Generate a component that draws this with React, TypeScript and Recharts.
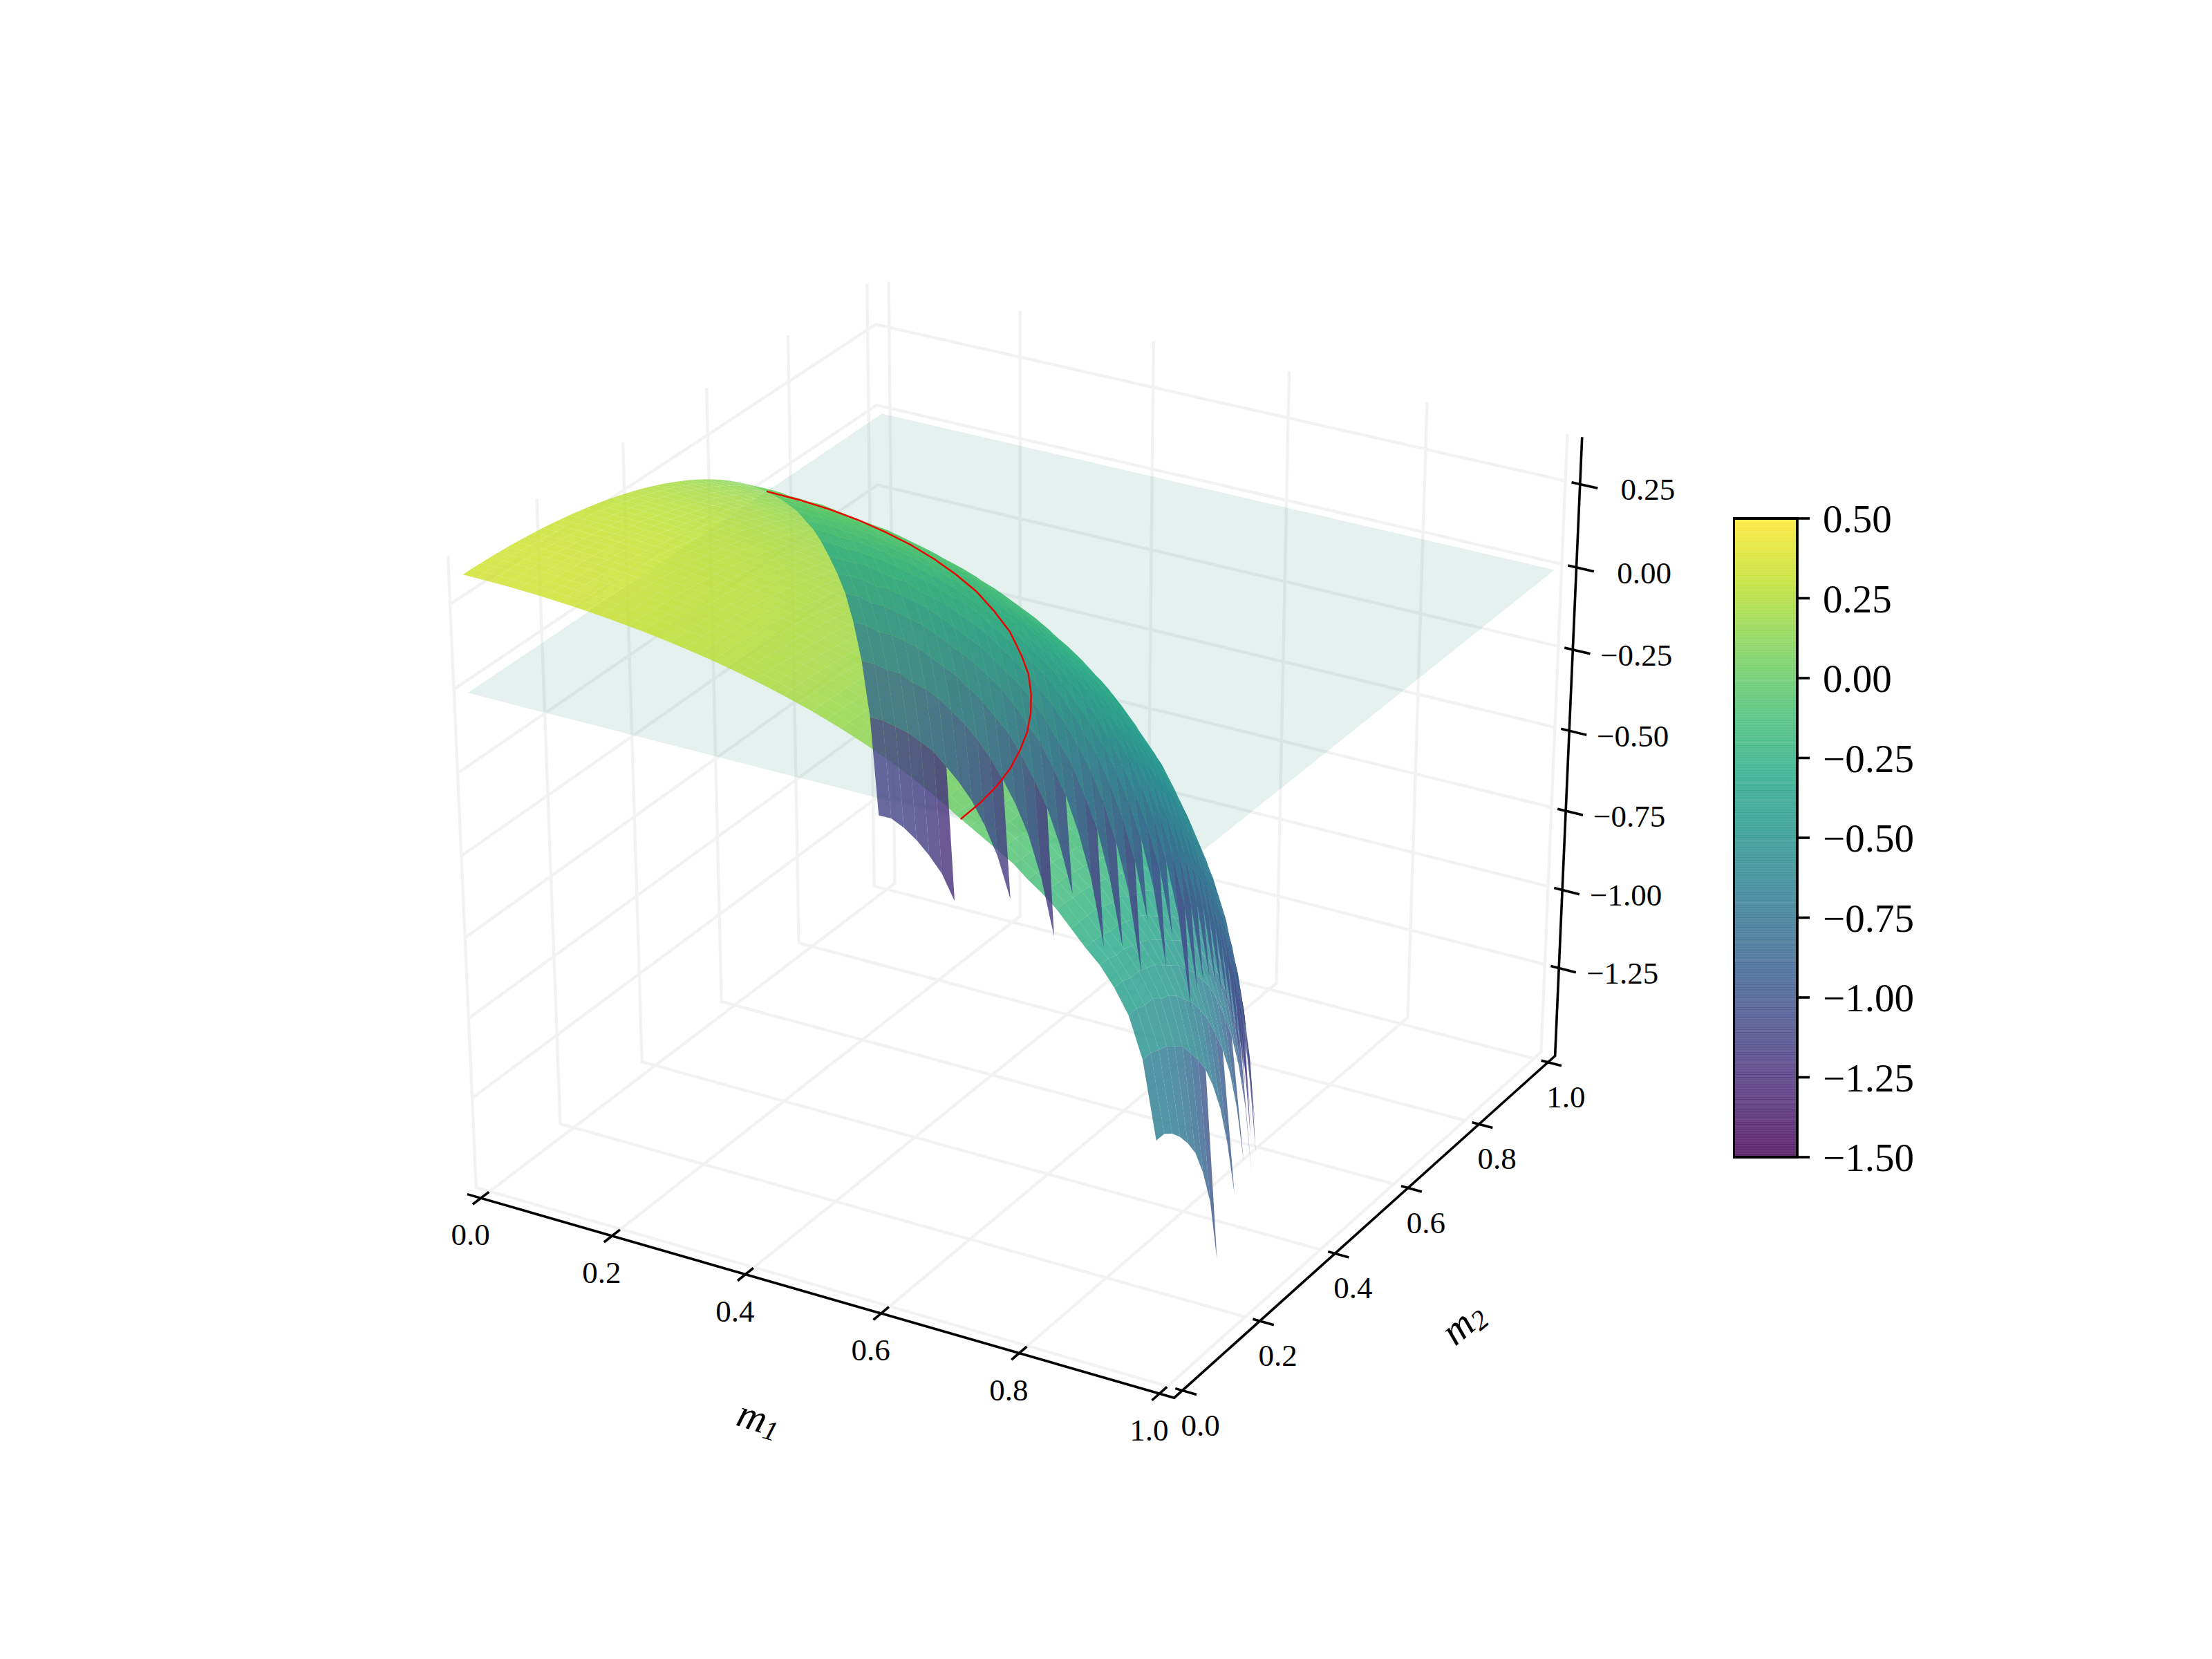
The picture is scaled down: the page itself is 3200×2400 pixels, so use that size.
import React from "react";
import { ScatterChart, Scatter, XAxis, YAxis, ReferenceArea } from "recharts";

// mesh positions along m1 and m2
const meshM = [
  0, 0.02, 0.04, 0.06, 0.08, 0.1, 0.12, 0.14, 0.16, 0.18, 0.2, 0.22, 0.24, 0.26, 0.28, 0.3, 0.32, 0.34, 0.36, 0.38,
  0.4, 0.42, 0.44, 0.46, 0.48, 0.5, 0.52, 0.54, 0.56, 0.58, 0.6, 0.62, 0.64, 0.66, 0.68, 0.7, 0.72, 0.74, 0.76, 0.78,
  0.8, 0.82, 0.84, 0.86, 0.88, 0.9, 0.92, 0.94, 0.96, 0.98,
];

// the surface sits higher towards m1 = 1, read per mesh column
const columnLift = [
  0, 0, 0, 0, 0, 0, 0, 0, 0, 0, 0, 0, 0, 0, 0, 0, 0, 0, 0, 0,
  0, 0, 0, 0, 0, 0, 0, 0, 0, 0, 0, 0, 0, 0, 0, 0, 0.005, 0.01, 0.02, 0.03,
  0.04, 0.055, 0.075, 0.095, 0.12, 0.16, 0.215, 0.285, 0.365, 0.475,
];

// dome height against radius: inner part, shoulder, steep rim
const innerRadii = [
  0, 0.005, 0.01, 0.015, 0.02, 0.025, 0.03, 0.035, 0.04, 0.045, 0.05, 0.055, 0.06, 0.065, 0.07, 0.075, 0.08, 0.085, 0.09,
  0.095, 0.1, 0.105, 0.11, 0.115, 0.12, 0.125, 0.13, 0.135, 0.14, 0.145, 0.15, 0.155, 0.16, 0.165, 0.17, 0.175, 0.18,
  0.185, 0.19, 0.195, 0.2, 0.205, 0.21, 0.215, 0.22, 0.225, 0.23, 0.235, 0.24, 0.245, 0.25, 0.255, 0.26, 0.265, 0.27,
  0.275, 0.28, 0.285, 0.29, 0.295, 0.3, 0.305, 0.31, 0.315, 0.32, 0.325, 0.33, 0.335, 0.34, 0.345, 0.35, 0.355, 0.36,
  0.365, 0.37, 0.375, 0.38, 0.385, 0.39, 0.395, 0.4, 0.405, 0.41, 0.415, 0.42, 0.425, 0.43, 0.435, 0.44, 0.445, 0.45,
  0.455, 0.46, 0.465, 0.47, 0.475, 0.48, 0.485, 0.49, 0.495, 0.5, 0.505, 0.51, 0.515, 0.52, 0.525, 0.53, 0.535, 0.54,
  0.545, 0.55, 0.555, 0.56, 0.565, 0.57, 0.575, 0.58, 0.585, 0.59, 0.595, 0.6, 0.605, 0.61, 0.615, 0.62, 0.625, 0.63,
  0.635, 0.64, 0.645, 0.65, 0.655, 0.66, 0.665, 0.67, 0.675, 0.68, 0.685, 0.69, 0.695, 0.7,
];
const innerHeights = [
  0.3466, 0.3466, 0.3465, 0.3465, 0.3464, 0.3463, 0.3461, 0.346, 0.3458, 0.3456, 0.3453, 0.3451, 0.3448, 0.3445, 0.3441,
  0.3438, 0.3434, 0.343, 0.3425, 0.3421, 0.3416, 0.3411, 0.3405, 0.3399, 0.3394, 0.3387, 0.3381, 0.3374, 0.3367, 0.336,
  0.3352, 0.3345, 0.3336, 0.3328, 0.3319, 0.3311, 0.3301, 0.3292, 0.3282, 0.3272, 0.3262, 0.3251, 0.324, 0.3229, 0.3218,
  0.3206, 0.3194, 0.3182, 0.3169, 0.3157, 0.3143, 0.313, 0.3116, 0.3102, 0.3088, 0.3073, 0.3058, 0.3042, 0.3027, 0.3011,
  0.2994, 0.2978, 0.2961, 0.2943, 0.2926, 0.2908, 0.2889, 0.2871, 0.2852, 0.2832, 0.2813, 0.2792, 0.2772, 0.2751, 0.273,
  0.2708, 0.2686, 0.2664, 0.2641, 0.2618, 0.2594, 0.257, 0.2546, 0.2521, 0.2496, 0.247, 0.2444, 0.2417, 0.239, 0.2363,
  0.2335, 0.2306, 0.2277, 0.2248, 0.2218, 0.2187, 0.2157, 0.2125, 0.2093, 0.2061, 0.2028, 0.1994, 0.196, 0.1925, 0.189,
  0.1854, 0.1817, 0.178, 0.1742, 0.1704, 0.1665, 0.1625, 0.1585, 0.1543, 0.1502, 0.1459, 0.1416, 0.1372, 0.1327, 0.1281,
  0.1235, 0.1187, 0.1139, 0.109, 0.104, 0.0989, 0.0938, 0.0885, 0.0831, 0.0777, 0.0721, 0.0664, 0.0606, 0.0547, 0.0487,
  0.0425, 0.0363, 0.0299, 0.0234, 0.0167, 0.0099,
];
const shoulderRadii = [
  0.7036, 0.7071, 0.7106, 0.7141, 0.7175, 0.7208, 0.7241, 0.7274, 0.7306, 0.7338, 0.7369, 0.74, 0.743, 0.746, 0.749, 0.7519,
  0.7548, 0.7576, 0.7604, 0.7631, 0.7658, 0.7685, 0.7712, 0.7738, 0.7764, 0.7789, 0.7814, 0.7839, 0.7863, 0.7887, 0.7911,
  0.7935, 0.7958, 0.7981, 0.8004, 0.8026, 0.8048, 0.807, 0.8091, 0.8112, 0.8133, 0.8154, 0.8174, 0.8194, 0.8214, 0.8234,
  0.8254, 0.8273, 0.8292, 0.831, 0.8329, 0.8347, 0.8365, 0.8383, 0.8401, 0.8418, 0.8435, 0.8452, 0.8469, 0.8486, 0.8502, 0.8518,
];
const shoulderHeights = [
  0.005, 0, -0.005, -0.01, -0.015, -0.02, -0.025, -0.03, -0.035, -0.04, -0.045, -0.05, -0.055, -0.06, -0.065, -0.07,
  -0.075, -0.08, -0.085, -0.09, -0.095, -0.1, -0.105, -0.11, -0.115, -0.12, -0.125, -0.13, -0.135, -0.14, -0.145,
  -0.15, -0.155, -0.16, -0.165, -0.17, -0.175, -0.18, -0.185, -0.19, -0.195, -0.2, -0.205, -0.21, -0.215, -0.22,
  -0.225, -0.23, -0.235, -0.24, -0.245, -0.25, -0.255, -0.26, -0.265, -0.27, -0.275, -0.28, -0.285, -0.29, -0.295, -0.3,
];
const rimRadii = [
  0.855, 0.8581, 0.8612, 0.8641, 0.867, 0.8698, 0.8726, 0.8753, 0.878, 0.8805, 0.8831, 0.8855, 0.8879,
  0.8903, 0.8926, 0.8948, 0.897, 0.8992, 0.9013, 0.9034, 0.9054, 0.9073, 0.9093, 0.9112, 0.913, 0.9148, 0.9166, 0.9183,
  0.92, 0.9216, 0.9232, 0.9248, 0.9264, 0.9279, 0.9294, 0.9308, 0.9322, 0.9336, 0.935, 0.9363, 0.9376, 0.9389, 0.9401,
  0.9414, 0.9426, 0.9437, 0.9449, 0.946, 0.9471, 0.9482, 0.9492, 0.9503, 0.9513, 0.9523, 0.9532, 0.9542, 0.9551, 0.956,
  0.9569, 0.9578, 0.9586, 0.9595, 0.9603, 0.9611, 0.9619, 0.9627, 0.9634, 0.9641, 0.9649, 0.9656, 0.9663, 0.967, 0.9676,
  0.9683, 0.9689, 0.9695, 0.9701, 0.9708, 0.9713, 0.9719, 0.9725, 0.973, 0.9736, 0.9741, 0.9746, 0.9751, 0.9756, 0.9761,
  0.9766, 0.9771, 0.9775, 0.978, 0.9784, 0.9788, 0.9793, 0.9797, 0.9801, 0.9805, 0.9809, 0.9813, 0.9816, 0.982, 0.9824,
  0.9827, 0.9831, 0.9834, 0.9837, 0.9841, 0.9844, 0.9847, 0.985, 0.9853, 0.9856, 0.9859, 0.9862, 0.9864, 0.9867, 0.987,
  0.9872, 0.9875, 0.98797, 0.98845, 0.9889, 0.98934, 0.98976, 0.99055, 0.99127, 0.99195, 0.99257, 0.99315, 0.99367,
  0.99416, 0.99461, 0.99502, 0.99541, 0.99624, 0.99692, 0.99794,
];
const rimHeights = [
  -0.31, -0.32, -0.33, -0.34, -0.35, -0.36, -0.37, -0.38, -0.39, -0.4, -0.41, -0.42, -0.43,
  -0.44, -0.45, -0.46, -0.47, -0.48, -0.49, -0.5, -0.51, -0.52, -0.53, -0.54, -0.55, -0.56, -0.57, -0.58,
  -0.59, -0.6, -0.61, -0.62, -0.63, -0.64, -0.65, -0.66, -0.67, -0.68, -0.69, -0.7, -0.71, -0.72, -0.73,
  -0.74, -0.75, -0.76, -0.77, -0.78, -0.79, -0.8, -0.81, -0.82, -0.83, -0.84, -0.85, -0.86, -0.87, -0.88,
  -0.89, -0.9, -0.91, -0.92, -0.93, -0.94, -0.95, -0.96, -0.97, -0.98, -0.99, -1, -1.01, -1.02, -1.03,
  -1.04, -1.05, -1.06, -1.07, -1.08, -1.09, -1.1, -1.11, -1.12, -1.13, -1.14, -1.15, -1.16, -1.17, -1.18,
  -1.19, -1.2, -1.21, -1.22, -1.23, -1.24, -1.25, -1.26, -1.27, -1.28, -1.29, -1.3, -1.31, -1.32, -1.33,
  -1.34, -1.35, -1.36, -1.37, -1.38, -1.39, -1.4, -1.41, -1.42, -1.43, -1.44, -1.45, -1.46, -1.47, -1.48,
  -1.49, -1.5, -1.52, -1.54, -1.56, -1.58, -1.6, -1.64, -1.68, -1.72, -1.76, -1.8, -1.84,
  -1.88, -1.92, -1.96, -2, -2.1, -2.2, -2.4,
];
const ringRadii = [...innerRadii, ...shoulderRadii, ...rimRadii];
const ringHeights = [...innerHeights, ...shoulderHeights, ...rimHeights];

// the red line where the surface crosses zero
const contourM1 = [0, 0.05, 0.0999, 0.1495, 0.199, 0.248, 0.297, 0.345, 0.394, 0.442, 0.491, 0.54, 0.574, 0.606, 0.633, 0.656, 0.674, 0.689, 0.699, 0.705, 0.707];
const contourM2 = [0.707, 0.705, 0.699, 0.689, 0.674, 0.656, 0.633, 0.606, 0.574, 0.535, 0.491, 0.436, 0.394, 0.345, 0.297, 0.248, 0.199, 0.1495, 0.0999, 0.05, 0];

const mTicks = [0, 0.2, 0.4, 0.6, 0.8, 1];
const zTicks = [-1.25, -1, -0.75, -0.5, -0.25, 0, 0.25];
const colorbarTicks = [-1.5, -1.25, -1, -0.75, -0.5, -0.25, 0, 0.25, 0.5];
const viridisStops = ["#440154", "#482475", "#414487", "#355f8d", "#2a788e", "#21918c", "#22a884", "#44bf70", "#7ad151", "#bddf26", "#fde725"];

const WIDTH = 3200;
const HEIGHT = 2400;
const FONT = "'Liberation Serif', serif";
const SURFACE_FLOOR = -1.505;

// 3d view of the axes box
const mLim = [-0.0208, 1.0208];
const zLim = [-1.535, 0.39];
const kx = 11805;
const ky = 10440;
const uDomain = [-1475 / kx, (WIDTH - 1475) / kx];
const vDomain = [(1185 - HEIGHT) / ky, 1185 / ky];

const project = (m1: number, m2: number, z: number) => {
  const x = (m1 - mLim[0]) / (mLim[1] - mLim[0]) - 0.5;
  const y = (m2 - mLim[0]) / (mLim[1] - mLim[0]) - 0.5;
  const h = (z - zLim[0]) / (zLim[1] - zLim[0]) - 0.5;
  const c = Math.sqrt(3) / 2;
  const depth = (c / 2) * x - 0.75 * y + 0.5 * h;
  const d = 10 - depth;
  return { u: (c * x + 0.5 * y) / d, v: (-0.25 * x + (c / 2) * y + c * h) / d, depth };
};

const viridis = (t: number) => {
  const p = Math.min(Math.max(t, 0), 1) * (viridisStops.length - 1);
  const i = Math.min(Math.floor(p), viridisStops.length - 2);
  const a = viridisStops[i];
  const b = viridisStops[i + 1];
  const mix = (s: number) => {
    const ca = parseInt(a.slice(s, s + 2), 16);
    const cb = parseInt(b.slice(s, s + 2), 16);
    return Math.round(ca + (cb - ca) * (p - i));
  };
  return `rgb(${mix(1)},${mix(3)},${mix(5)})`;
};

// nearest reading of the rings, null outside the surface
const heightAt = (i: number, j: number) => {
  const r = Math.sqrt(meshM[i] * meshM[i] + meshM[j] * meshM[j]);
  if (r > ringRadii[ringRadii.length - 1]) return null;
  let best = 0;
  for (let k = 1; k < ringRadii.length; k++) {
    if (Math.abs(ringRadii[k] - r) < Math.abs(ringRadii[best] - r)) best = k;
  }
  const z = ringHeights[best] + columnLift[i];
  return z < SURFACE_FLOOR ? null : z;
};

const buildQuads = () => {
  const quads: any[] = [];
  for (let i = 0; i < meshM.length - 1; i++) {
    for (let j = 0; j < meshM.length - 1; j++) {
      const nodes = [
        [i, j],
        [i + 1, j],
        [i + 1, j + 1],
        [i, j + 1],
      ];
      const zs = nodes.map(([a, b]) => heightAt(a, b));
      if (zs.some((z) => z === null)) continue;
      const corners = nodes.map(([a, b], k) => project(meshM[a], meshM[b], zs[k] as number));
      const mean = (zs as number[]).reduce((s, z) => s + z, 0) / 4;
      quads.push({
        u: corners.reduce((s, c) => s + c.u, 0) / 4,
        v: corners.reduce((s, c) => s + c.v, 0) / 4,
        depth: corners.reduce((s, c) => s + c.depth, 0) / 4,
        corners,
        color: viridis((mean + 1.5) / 2),
      });
    }
  }
  return quads.sort((a, b) => b.depth - a.depth);
};

const surfaceQuads = buildQuads();
const planeCorners = [project(0, 0, 0), project(1, 0, 0), project(1, 1, 0), project(0, 1, 0)];
const planeRow = [
  {
    u: planeCorners.reduce((s, c) => s + c.u, 0) / 4,
    v: planeCorners.reduce((s, c) => s + c.v, 0) / 4,
    corners: planeCorners,
    color: "rgb(0,115,85)",
    alpha: 0.1,
  },
];

const [lo, hi] = mLim;
const [zLo, zHi] = zLim;
const gridM1 = [lo, 1];
const gridM2 = [0, hi];

const gridLines = [
  ...mTicks.map((t) => [project(t, gridM2[0], zLo), project(t, gridM2[1], zLo), project(t, gridM2[1], zHi)]),
  ...mTicks.map((t) => [project(gridM1[1], t, zLo), project(gridM1[0], t, zLo), project(gridM1[0], t, zHi)]),
  ...zTicks.map((t) => [project(gridM1[0], gridM2[0], t), project(gridM1[0], gridM2[1], t), project(gridM1[1], gridM2[1], t)]),
];
const axisLines = [
  [project(lo, lo, zLo), project(hi, lo, zLo), project(hi, hi, zLo), project(hi, hi, zHi)],
];
const tickLines = [
  ...mTicks.map((t) => [project(t, lo - 0.019, zLo), project(t, lo + 0.019, zLo)]),
  ...mTicks.map((t) => [project(hi + 0.02, t, zLo), project(hi - 0.01, t, zLo)]),
  ...zTicks.map((t) => [project(hi + 0.025, hi, t), project(hi - 0.012, hi, t)]),
];
const contourRows = contourM1.map((m, i) => project(m, contourM2[i], 0));

const tickText = (t: number, digits: number) => (t < 0 ? "\u2212" : "") + Math.abs(t).toFixed(digits);
const m1Labels = mTicks.map((t) => ({ ...project(t, lo, zLo), text: t.toFixed(1), dx: -15, dy: 53 }));
const m2Labels = mTicks.map((t) => ({ ...project(hi, t, zLo), text: t.toFixed(1), dx: 26, dy: 50 }));
const zLabels = zTicks.map((t) => ({ ...project(hi, hi, t), text: tickText(t, 2), dx: t < 0 ? 92 : 98, dy: 8 }));

const NoDot = () => <g />;

const FacetShape = (props: any) => {
  const { cx, cy, payload } = props;
  const points = payload.corners.map((c: any) => `${cx + (c.u - payload.u) * kx},${cy - (c.v - payload.v) * ky}`).join(" ");
  return <polygon points={points} fill={payload.color} fillOpacity={payload.alpha ?? 0.8} stroke="none" />;
};

const TextShape = (props: any) => {
  const { cx, cy, payload } = props;
  return (
    <text x={cx + payload.dx} y={cy + payload.dy} textAnchor="middle" dominantBaseline="central" fontFamily={FONT} fontSize={45} fill="#000">
      {payload.text}
    </text>
  );
};

const titleShape = (base: string, sub: string, dx: number, dy: number, angle: number) => (props: any) => {
  const x = props.cx + dx;
  const y = props.cy + dy;
  return (
    <text x={x} y={y} transform={`rotate(${angle} ${x} ${y})`} textAnchor="middle" dominantBaseline="central" fontFamily={FONT} fontStyle="italic" fontSize={58} fill="#000">
      {base}
      <tspan fontSize={40} dy={12}>{sub}</tspan>
    </text>
  );
};

const lineSeries = (rows: any[], key: string, stroke: string, width: number) => (
  <Scatter
    key={key}
    data={rows}
    line={{ stroke, strokeWidth: width }}
    lineJointType="linear"
    lineType="joint"
    shape={NoDot}
    isAnimationActive={false}
  />
);

const colorbarBands = Array.from({ length: 256 }, (_, i) => i);

const Colorbar = () => (
  <div style={{ position: "absolute", left: 2507, top: 700 }}>
    <ScatterChart width={340} height={1030} margin={{ top: 50, right: 0, bottom: 56, left: 1 }}>
      <XAxis type="number" dataKey="x" domain={[0, 1]} hide />
      <YAxis
        type="number"
        dataKey="y"
        orientation="right"
        domain={[-1.5, 0.5]}
        ticks={colorbarTicks}
        interval={0}
        width={247}
        axisLine={false}
        tickSize={18}
        tickMargin={19}
        tick={{ fontSize: 57, fontFamily: FONT, fill: "#000" }}
        tickLine={{ stroke: "#000", strokeWidth: 3.6 }}
        tickFormatter={(t: number) => tickText(t, 2)}
      />
      <Scatter data={[{ x: 0, y: -1.5 }, { x: 1, y: 0.5 }]} shape={NoDot} isAnimationActive={false} />
      {colorbarBands.map((i) => (
        <ReferenceArea
          key={i}
          x1={0}
          x2={1}
          y1={-1.5 + (i * 2) / 256}
          y2={Math.min(-1.5 + ((i + 1) * 2) / 256 + 0.001, 0.5)}
          fill={viridis(i / 255)}
          fillOpacity={0.8}
          stroke="none"
        />
      ))}
      <ReferenceArea x1={0} x2={1} y1={-1.5} y2={0.5} fill="none" stroke="#000" strokeWidth={3.8} />
    </ScatterChart>
  </div>
);

export default function App() {
  return (
    <div style={{ position: "absolute", left: 0, top: 0, width: WIDTH, height: HEIGHT, background: "#fff", fontFamily: FONT }}>
      <ScatterChart width={WIDTH} height={HEIGHT} margin={{ top: 0, right: 0, bottom: 0, left: 0 }}>
        <XAxis type="number" dataKey="u" domain={uDomain} allowDataOverflow hide />
        <YAxis type="number" dataKey="v" domain={vDomain} allowDataOverflow hide />
        {gridLines.map((rows, i) => lineSeries(rows, `grid-${i}`, "#f2f2f2", 4.4))}
        <Scatter data={planeRow} shape={FacetShape} isAnimationActive={false} />
        <Scatter data={surfaceQuads} shape={FacetShape} isAnimationActive={false} />
        {lineSeries(contourRows, "contour", "#ee0000", 2.4)}
        {axisLines.map((rows, i) => lineSeries(rows, `axis-${i}`, "#000", 3.6))}
        {tickLines.map((rows, i) => lineSeries(rows, `tick-${i}`, "#000", 3.6))}
        <Scatter data={m1Labels} shape={TextShape} isAnimationActive={false} />
        <Scatter data={m2Labels} shape={TextShape} isAnimationActive={false} />
        <Scatter data={zLabels} shape={TextShape} isAnimationActive={false} />
        <Scatter data={[project(0.4, lo, zLo)]} shape={titleShape("m", "1", 20, 208, 17)} isAnimationActive={false} />
        <Scatter data={[project(hi, 0.4, zLo)]} shape={titleShape("m", "2", 185, 100, -40)} isAnimationActive={false} />
      </ScatterChart>
      <Colorbar />
    </div>
  );
}
